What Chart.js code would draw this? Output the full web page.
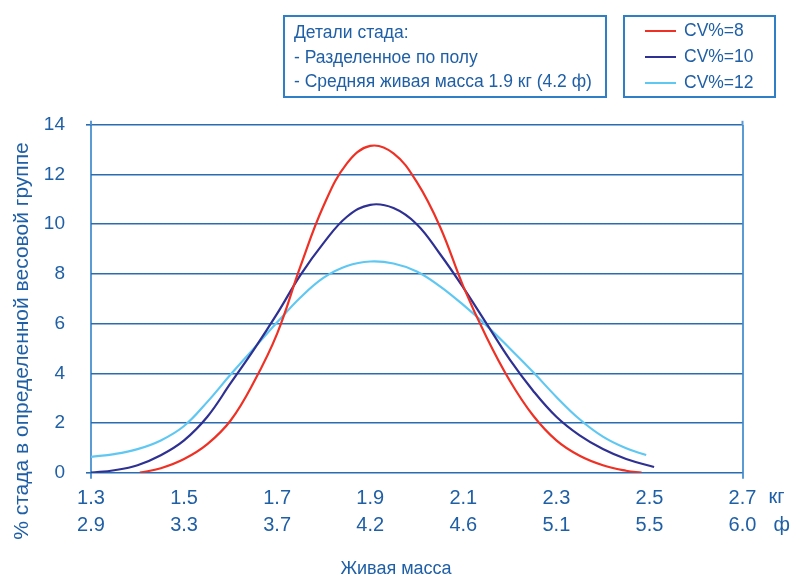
<!DOCTYPE html>
<html><head><meta charset="utf-8">
<script src="https://cdn.jsdelivr.net/npm/chart.js@4/dist/chart.umd.min.js"></script>
<style>
body{margin:0;background:#fff;}
#wrap{position:relative;width:790px;height:578px;}
.box{position:absolute;border:2px solid #2f7fc6;box-sizing:border-box;color:#1f5fa6;font-family:"Liberation Sans",Arial,sans-serif;font-size:17.5px;}
.box .ln{position:absolute;left:9px;white-space:nowrap;}
.leg{position:absolute;left:20px;white-space:nowrap;display:flex;align-items:center;font-size:17.5px;}
.leg span.sw{display:inline-block;width:31px;height:2px;margin-right:8px;}
</style></head>
<body><div id="wrap"><canvas id="c" width="790" height="578"></canvas>
<div class="box" id="info" style="left:283px;top:15px;width:324px;height:83px"></div>
<div class="box" id="legend" style="left:623px;top:15px;width:153px;height:83px"></div>
</div>
<script>
// ---- data ----
const kgTicks = [1.3, 1.5, 1.7, 1.9, 2.1, 2.3, 2.5, 2.7];
const lbTicks = ["2.9", "3.3", "3.7", "4.2", "4.6", "5.1", "5.5", "6.0"];
const unitLabels = ["кг", "ф"];
const yTicks = [0, 2, 4, 6, 8, 10, 12, 14];
const seriesNames = ["CV%=8", "CV%=10", "CV%=12"];
const seriesColors = ["#ee3124", "#2e3192", "#5fc8f2"];
const infoLines = ["Детали стада:", "- Разделенное по полу", "- Средняя живая масса 1.9 кг (4.2 ф)"];
const xTitle = "Живая масса";
const yTitle = "% стада в определенной весовой группе";

const cv8Weights = [1.405,1.45,1.50,1.55,1.60,1.65,1.70,1.75,1.80,1.85,1.90,1.95,2.00,2.05,2.10,2.15,2.20,2.25,2.30,2.35,2.40,2.45,2.483];
const cv8Share   = [0.0,0.18,0.55,1.15,2.1,3.65,5.6,8.3,10.75,12.45,13.15,12.85,11.7,9.9,7.5,5.45,3.7,2.3,1.3,0.68,0.3,0.08,0.0];

const cv10Weights = [1.30,1.35,1.40,1.45,1.50,1.55,1.60,1.65,1.70,1.75,1.80,1.85,1.90,1.95,2.00,2.05,2.10,2.15,2.20,2.25,2.30,2.35,2.40,2.45,2.51];
const cv10Share   = [0.0,0.1,0.3,0.7,1.3,2.25,3.6,4.95,6.4,7.95,9.25,10.3,10.78,10.65,10.0,8.8,7.45,6.0,4.55,3.3,2.25,1.5,0.95,0.55,0.23];

const cv12Weights = [1.30,1.35,1.40,1.45,1.50,1.55,1.60,1.65,1.70,1.75,1.80,1.85,1.90,1.95,2.00,2.05,2.10,2.15,2.20,2.25,2.30,2.35,2.40,2.45,2.493];
const cv12Share   = [0.64,0.75,0.95,1.3,1.88,2.85,3.95,5.0,6.05,7.05,7.85,8.32,8.5,8.42,8.1,7.5,6.75,5.92,5.0,4.05,3.05,2.15,1.45,0.98,0.71];

// ---- html boxes ----
const TEXT = "#1f5fa6", GRID = "#2b6cb0", AXIS = "#5b9bd5";
const info = document.getElementById('info');
infoLines.forEach((t,i)=>{const d=document.createElement('div');d.className='ln';d.style.top=(5+i*24.5)+'px';d.textContent=t;info.appendChild(d);});
const leg = document.getElementById('legend');
seriesNames.forEach((t,i)=>{const d=document.createElement('div');d.className='leg';d.style.top=(3+i*26)+'px';
 const s=document.createElement('span');s.className='sw';s.style.background=seriesColors[i];d.appendChild(s);
 const l=document.createElement('span');l.textContent=t;d.appendChild(l);leg.appendChild(d);});

const pts = (xs, ys) => xs.map((x,i)=>({x:x, y:ys[i]}));
const sets = [[cv8Weights,cv8Share],[cv10Weights,cv10Share],[cv12Weights,cv12Share]];

const extra = {
  id:'extra',
  afterDraw(chart){
    const c = chart.ctx, xs = chart.scales.x, ca = chart.chartArea;
    c.save();
    c.strokeStyle = AXIS; c.lineWidth = 2;
    [kgTicks[0], kgTicks[kgTicks.length-1]].forEach(v=>{
      const px = xs.getPixelForValue(v);
      c.beginPath(); c.moveTo(px, ca.top-4); c.lineTo(px, ca.top); c.stroke();
    });
    c.fillStyle = TEXT;
    c.font = '20px "Liberation Sans Narrow", "Liberation Sans", Arial';
    c.textAlign = 'left'; c.textBaseline = 'middle';
    const lastPx = xs.getPixelForValue(kgTicks[kgTicks.length-1]);
    c.fillText(unitLabels[0], lastPx + 26, 497);
    c.fillText(unitLabels[1], lastPx + 31, 525);
    c.textAlign = 'center';
    c.font = '18px "Liberation Sans Narrow", "Liberation Sans", Arial';
    c.fillText(xTitle, 396, 569);
    c.translate(22, 341); c.rotate(-Math.PI/2);
    c.font = '21px "Liberation Sans", Arial';
    c.fillText(yTitle, 0, 0);
    c.restore();
  }
};

new Chart(document.getElementById('c'), {
  type: 'line',
  data: { datasets: sets.map((s,i)=>({
    label: seriesNames[i], data: pts(s[0], s[1]),
    borderColor: seriesColors[i], backgroundColor: seriesColors[i],
    borderWidth: 2.2, pointRadius: 0, fill: false, tension: 0.4
  }))},
  options: {
    responsive: false, animation: false, devicePixelRatio: 1,
    layout: { padding: { top: 124.8, right: 47.5, left: 0, bottom: 0 } },
    plugins: { legend: { display: false }, tooltip: { enabled: false } },
    scales: {
      x: {
        type: 'linear', min: 1.3, max: 2.7,
        afterBuildTicks: s => { s.ticks = kgTicks.map(v=>({value:v})); },
        afterFit: s => { s.height = 578 - 472.7; },
        border: { display: false },
        grid: { color: ctx => (ctx.index===0 || ctx.index===kgTicks.length-1) ? AXIS : 'transparent',
                tickColor: ctx => (ctx.index===0 || ctx.index===kgTicks.length-1) ? AXIS : 'transparent',
                lineWidth: 2, tickLength: 6 },
        ticks: { color: TEXT, maxRotation: 0, autoSkip: false, padding: 6,
                 font: { family: '"Liberation Sans Narrow", "Liberation Sans", Arial', size: 20, lineHeight: 1.375 },
                 callback: (v, i) => [String(kgTicks[i]), lbTicks[i]] },
        title: { display: false }
      },
      y: {
        min: 0, max: 14,
        afterBuildTicks: s => { s.ticks = yTicks.map(v=>({value:v})); },
        afterFit: s => { s.width = 91; },
        border: { display: false },
        grid: { color: GRID, lineWidth: 1.6, tickLength: 5,
                tickColor: ctx => (ctx.tick && (ctx.tick.value===0 || ctx.tick.value===14)) ? GRID : 'transparent' },
        ticks: { color: TEXT, padding: 21, font: { family: '"Liberation Sans", Arial', size: 19 } }
      }
    }
  },
  plugins: [extra]
});
</script></body></html>
